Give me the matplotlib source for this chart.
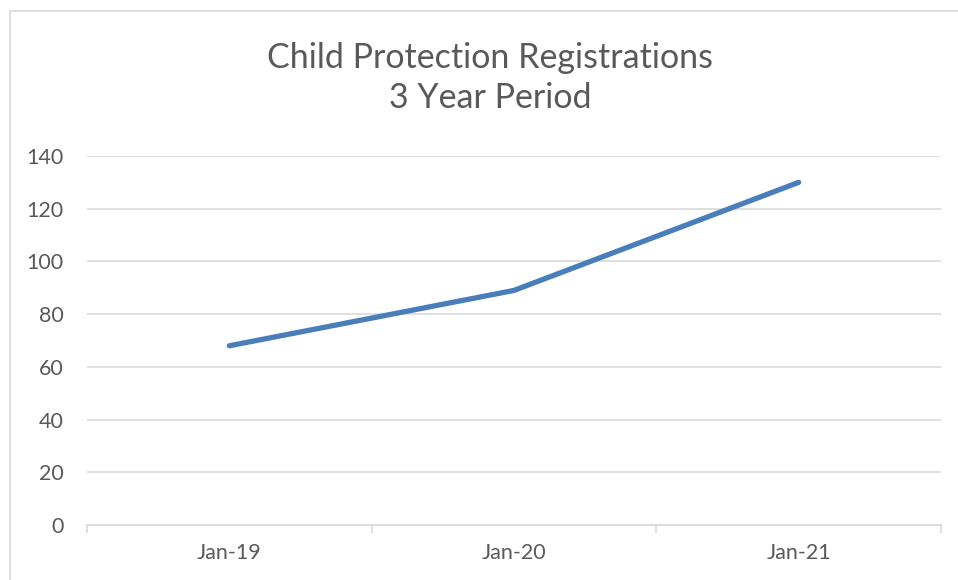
import matplotlib.pyplot as plt
from matplotlib.patches import Rectangle
from matplotlib.ticker import FixedLocator

# Data
months = ["Jan-19", "Jan-20", "Jan-21"]
registrations = [68, 89, 130]
y_ticks = [0, 20, 40, 60, 80, 100, 120, 140]

text_color = "#595959"
grid_color = "#d9d9d9"
line_color = "#4a7ebb"

plt.rcParams['font.family'] = ['Lato', 'DejaVu Sans']

W, H = 958, 580
fig = plt.figure(figsize=(W / 100, H / 100), dpi=100)

# chart outer border (cut off at right / bottom like the screenshot)
fig.patches.append(Rectangle((10 / W, -0.1), 1.2, 1 - 11 / H + 0.1,
                             transform=fig.transFigure, fill=False,
                             edgecolor=grid_color, linewidth=1.2))

ax = fig.add_axes([87 / W, 1 - 525 / H, (941 - 87) / W, (525 - 156) / H])

x = range(len(months))
ax.plot(x, registrations, color=line_color, linewidth=3.8,
        solid_capstyle='round', solid_joinstyle='round', zorder=3)

ax.set_xlim(-0.5, len(months) - 0.5)
ax.set_ylim(0, 140)
ax.set_yticks(y_ticks)
ax.set_xticks(list(x))
ax.set_xticklabels(months)
ax.xaxis.set_minor_locator(FixedLocator([i - 0.5 for i in range(len(months) + 1)]))

ax.grid(axis='y', color=grid_color, linewidth=1.2, zorder=0)
for side in ['top', 'right', 'left']:
    ax.spines[side].set_visible(False)
ax.spines['bottom'].set_color(grid_color)
ax.spines['bottom'].set_linewidth(1.2)

ax.tick_params(axis='y', length=0, labelsize=15.5, labelcolor=text_color, pad=17)
ax.tick_params(axis='x', which='major', length=0, labelsize=15.5,
               labelcolor=text_color, pad=13)
ax.tick_params(axis='x', which='minor', length=6, color=grid_color, width=1.2,
               direction='out')

fig.text(490 / W, 1 - 78 / H, "Child Protection Registrations\n3 Year Period",
         ha='center', va='center', fontsize=24.5, color=text_color,
         linespacing=1.3)

plt.savefig("out.png", dpi=100)
